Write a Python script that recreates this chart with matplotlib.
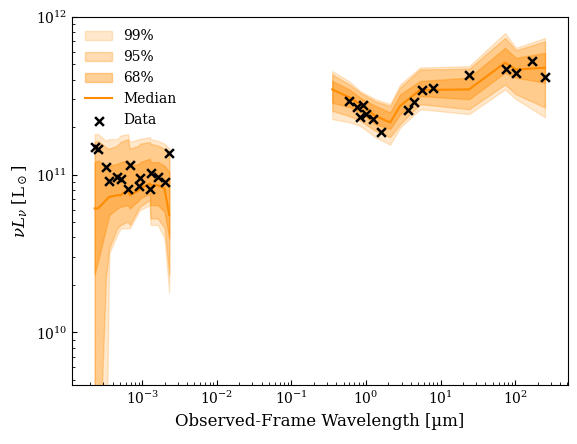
import numpy as np
import matplotlib
matplotlib.use("Agg")
import matplotlib.pyplot as plt

plt.rcParams['font.family'] = 'DejaVu Serif'
plt.rcParams['mathtext.fontset'] = 'dejavuserif'

# observed photometry (um, Lsun)
wave_data = [2.30e-4, 2.55e-4, 3.26e-4, 3.61e-4, 4.62e-4, 5.13e-4, 6.82e-4, 6.41e-4,
             9.0e-4, 9.3e-4, 1.29e-3, 1.26e-3, 1.62e-3, 1.99e-3, 2.30e-3,
             0.596, 0.769, 0.908, 0.835, 1.006, 1.26, 1.58, 3.64, 4.42, 5.71, 7.86,
             24.3, 74.7, 102.6, 169.5, 253.0]
lum_data = [1.49e11, 1.46e11, 1.12e11, 9.1e10, 9.68e10, 9.44e10, 1.16e11, 8.17e10,
            8.49e10, 9.53e10, 1.03e11, 8.17e10, 9.68e10, 9.0e10, 1.37e11,
            2.91e11, 2.67e11, 2.77e11, 2.31e11, 2.44e11, 2.25e11, 1.87e11, 2.56e11, 2.87e11, 3.44e11, 3.56e11,
            4.28e11, 4.69e11, 4.43e11, 5.24e11, 4.18e11]

# model posterior, short-wavelength piece
wave_a = [2.30e-4, 2.55e-4, 3.26e-4, 3.61e-4, 4.62e-4, 5.13e-4, 6.41e-4, 6.82e-4,
          9.0e-4, 9.3e-4, 1.26e-3, 1.29e-3, 1.62e-3, 1.99e-3, 2.30e-3]
med_a = [6.11e10, 6.11e10, 6.89e10, 7.24e10, 7.41e10, 7.41e10, 7.97e10, 7.41e10,
         7.97e10, 8.17e10, 8.78e10, 8.57e10, 8.57e10, 8.17e10, 5.55e10]
lo68_a = [2.33e10, 2.82e10, 4.57e10, 5.55e10, 6.11e10, 6.26e10, 6.41e10, 6.11e10,
          6.89e10, 7.07e10, 7.60e10, 6.41e10, 6.41e10, 5.82e10, 3.95e10]
hi68_a = [1.20e11, 1.23e11, 1.14e11, 1.14e11, 1.17e11, 1.20e11, 1.23e11, 1.14e11,
          1.17e11, 1.20e11, 1.26e11, 1.20e11, 1.20e11, 1.14e11, 1.04e11]
lo95_a = [1e9, 1e9, 2.22e10, 3.43e10, 4.57e10, 4.80e10, 5.04e10, 4.80e10,
          6.11e10, 6.26e10, 6.89e10, 5.28e10, 5.28e10, 4.57e10, 2.33e10]
hi95_a = [1.61e11, 1.64e11, 1.49e11, 1.46e11, 1.53e11, 1.61e11, 1.68e11, 1.46e11,
          1.53e11, 1.57e11, 1.61e11, 1.57e11, 1.53e11, 1.46e11, 1.39e11]
lo99_a = [1e9, 1e9, 1e9, 3.18e10, 4.15e10, 4.57e10, 4.57e10, 4.57e10,
          5.82e10, 5.96e10, 6.41e10, 4.80e10, 4.80e10, 3.95e10, 1.79e10]
hi99_a = [1.81e11, 1.81e11, 1.64e11, 1.68e11, 1.68e11, 1.77e11, 1.81e11, 1.61e11,
          1.68e11, 1.68e11, 1.73e11, 1.68e11, 1.64e11, 1.57e11, 1.46e11]

# model posterior, long-wavelength piece
wave_b = [0.353, 0.596, 0.835, 1.33, 2.11, 2.87, 5.31, 24.1, 73.1, 102.6, 251.0]
med_b = [3.47e11, 3.09e11, 2.80e11, 2.36e11, 2.14e11, 2.73e11, 3.44e11, 3.47e11, 5.12e11, 4.64e11, 4.76e11]
lo68_b = [2.86e11, 2.68e11, 2.48e11, 2.09e11, 1.95e11, 2.42e11, 3.15e11, 3.01e11, 4.43e11, 4.12e11, 3.83e11]
hi68_b = [3.92e11, 3.47e11, 3.08e11, 2.73e11, 2.48e11, 3.23e11, 3.92e11, 4.12e11, 6.36e11, 5.50e11, 5.91e11]
lo95_b = [2.54e11, 2.35e11, 2.20e11, 1.90e11, 1.73e11, 2.09e11, 2.80e11, 2.60e11, 3.73e11, 3.23e11, 2.67e11]
hi95_b = [4.32e11, 3.73e11, 3.31e11, 2.92e11, 2.72e11, 3.57e11, 4.64e11, 4.69e11, 7.35e11, 6.14e11, 7.00e11]
lo99_b = [2.25e11, 2.15e11, 2.04e11, 1.73e11, 1.55e11, 1.99e11, 2.60e11, 2.42e11, 3.47e11, 3.01e11, 2.31e11]
hi99_b = [4.53e11, 3.90e11, 3.39e11, 3.01e11, 2.80e11, 3.73e11, 4.78e11, 4.87e11, 7.90e11, 6.36e11, 7.35e11]

col = 'darkorange'

fig, ax = plt.subplots(figsize=(5.77, 4.44), dpi=100)
fig.subplots_adjust(left=0.125, right=0.984, top=0.962, bottom=0.133)

pieces = [(wave_a, med_a, lo68_a, hi68_a, lo95_a, hi95_a, lo99_a, hi99_a),
          (wave_b, med_b, lo68_b, hi68_b, lo95_b, hi95_b, lo99_b, hi99_b)]
for i, (w, med, l68, h68, l95, h95, l99, h99) in enumerate(pieces):
    lab = (i == 0)
    ax.fill_between(w, l99, h99, color=col, alpha=0.2, label='99%' if lab else None)
    ax.fill_between(w, l95, h95, color=col, alpha=0.3, label='95%' if lab else None)
    ax.fill_between(w, l68, h68, color=col, alpha=0.4, label='68%' if lab else None)
    ax.plot(w, med, color=col, lw=1.5, label='Median' if lab else None)

ax.scatter(wave_data, lum_data, marker='x', c='k', s=40, linewidths=1.8, zorder=5, label='Data')

ax.set_xscale('log')
ax.set_yscale('log')
ax.set_ylim(4.65e9, 1e12)
ax.tick_params(which='both', direction='in')
ax.set_xlabel('Observed-Frame Wavelength [µm]', fontsize=12)
ax.set_ylabel(r'$\nu L_\nu$ [L$_\odot$]', fontsize=12)
ax.legend(loc='upper left', frameon=False, fontsize=10)

plt.savefig('out.png', dpi=100)
